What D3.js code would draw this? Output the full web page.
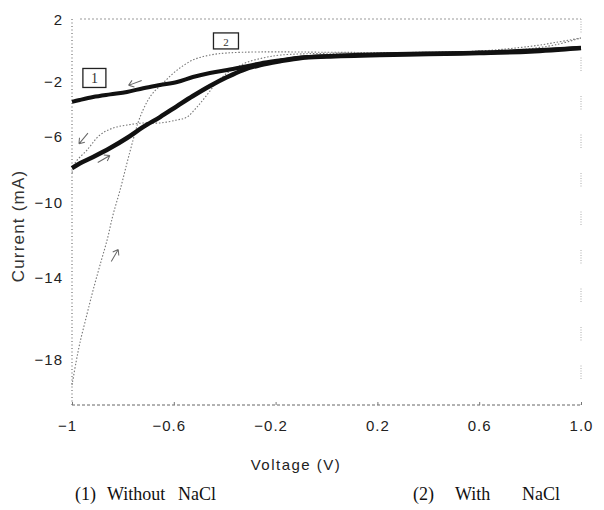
<!DOCTYPE html>
<html>
<head>
<meta charset="utf-8">
<script src="https://cdn.jsdelivr.net/npm/d3@7"></script>
<style>
  html, body { margin: 0; padding: 0; background: #fff; }
  svg { display: block; }
</style>
</head>
<body>
<svg id="chart" width="604" height="510"></svg>
<script>
// ---------------- data ----------------
// Curve 1 (without NaCl), forward scan (lower branch)
const c1ForwardV = [-1, -0.97, -0.917, -0.85, -0.784, -0.72, -0.654, -0.587, -0.525, -0.458, -0.39, -0.328, -0.26, -0.18, -0.1, 0.0, 0.21, 0.4, 0.6, 0.8, 1.0];
const c1ForwardI = [-7.88, -7.6, -7.21, -6.67, -6.06, -5.27, -4.55, -3.75, -3.02, -2.29, -1.68, -1.23, -0.9, -0.65, -0.45, -0.36, -0.26, -0.2, -0.13, -0.03, 0.19];
// Curve 1, reverse scan (upper branch)
const c1ReverseV = [1.0, 0.6, 0.2, -0.1, -0.18, -0.26, -0.328, -0.39, -0.458, -0.525, -0.587, -0.654, -0.72, -0.784, -0.85, -0.917, -0.97, -1];
const c1ReverseI = [0.19, -0.1, -0.22, -0.42, -0.6, -0.8, -1.03, -1.23, -1.42, -1.68, -2.0, -2.22, -2.45, -2.73, -2.9, -3.09, -3.31, -3.45];
// Curve 2 (with NaCl), forward scan (steep branch)
const c2ForwardV = [-1, -0.984, -0.969, -0.941, -0.917, -0.89, -0.862, -0.839, -0.811, -0.784, -0.76, -0.741, -0.721, -0.701, -0.682, -0.642, -0.587, -0.525, -0.458, -0.391, -0.261, 0.0, 0.2, 0.4, 0.6, 0.7, 0.8, 0.9, 1.0];
const c2ForwardI = [-19.22, -18.1, -17.17, -15.76, -14.59, -13.31, -11.97, -10.64, -9.21, -7.58, -6.18, -4.98, -4.04, -3.31, -2.8, -2.07, -1.23, -0.58, -0.26, -0.13, -0.06, -0.08, -0.1, -0.1, -0.08, 0.0, 0.15, 0.4, 0.84];
// Curve 2, reverse scan (wavy branch)
const c2ReverseV = [1.0, 0.9, 0.8, 0.6, 0.3, 0.0, -0.18, -0.25, -0.31, -0.35, -0.39, -0.43, -0.47, -0.509, -0.548, -0.587, -0.654, -0.72, -0.784, -0.839, -0.89, -0.941, -0.988, -1];
const c2ReverseI = [0.84, 0.55, 0.3, 0.0, -0.1, -0.15, -0.26, -0.45, -0.71, -1.03, -1.42, -2.0, -2.95, -3.82, -4.55, -4.76, -4.98, -4.98, -5.13, -5.35, -5.85, -6.79, -7.58, -8.2];

// ticks
const xTickValues = [-1, -0.6, -0.2, 0.2, 0.6, 1.0];
const xTickLabels = ["\u22121", "\u22120.6", "\u22120.2", "0.2", "0.6", "1.0"];
const yTickValues = [2, -2, -6, -10, -14, -18];
const yTickLabels = ["2", "\u22122", "\u22126", "\u221210", "\u221214", "\u221218"];

// annotations: scan-direction arrows (voltage, current, screen angle in degrees)
const arrowV = [-0.752, -0.875, -0.955, -0.832];
const arrowI = [-2.07, -7.33, -6.09, -12.8];
const arrowAngle = [160, -30, 130, -60];
// curve number boxes
const boxLabels = ["1", "2"];
const boxV = [-0.912, -0.395];
const boxI = [-1.74, 0.65];

const xLabel = "Voltage (V)";
const yLabel = "Current (mA)";
const captions = [["(1)", "Without", "NaCl"], ["(2)", "With", "NaCl"]];

// ---------------- drawing ----------------
const svg = d3.select("#chart");
const pLeft = 72, pRight = 581, pTop = 19, pBottom = 405;

const x = d3.scaleLinear().domain([-1, 1]).range([pLeft, pRight]);
// scanned figure: y tick spacing is uneven, follow it piecewise
const y = d3.scaleLinear()
  .domain([2, -2, -6, -10, -14, -18, -22])
  .range([20, 82, 137, 203, 278, 360, 442]);

// frame (dotted, like the scan)
const frame = svg.append("g");
frame.append("line").attr("x1", pLeft).attr("x2", pLeft).attr("y1", pTop).attr("y2", pBottom)
  .attr("stroke", "#555").attr("stroke-width", 1).attr("stroke-dasharray", "1,2.5");
frame.append("line").attr("x1", pLeft).attr("x2", pRight).attr("y1", pBottom).attr("y2", pBottom)
  .attr("stroke", "#666").attr("stroke-width", 1).attr("stroke-dasharray", "3,2");
frame.append("line").attr("x1", pLeft + 8).attr("x2", pRight).attr("y1", pTop).attr("y2", pTop)
  .attr("stroke", "#999").attr("stroke-width", 1).attr("stroke-dasharray", "2,2");
frame.append("line").attr("x1", pRight).attr("x2", pRight).attr("y1", pTop).attr("y2", pBottom)
  .attr("stroke", "#aaa").attr("stroke-width", 1).attr("stroke-dasharray", "1,1.5,1,1.5,1,1.5,1,1.5,1,1.5,1,25");

// axes
const fontSans = "'Liberation Sans', Arial, sans-serif";
const xAxis = d3.axisBottom(x).tickValues(xTickValues)
  .tickFormat((d, i) => xTickLabels[i]).tickSize(3).tickPadding(12);
const gx = svg.append("g").attr("transform", `translate(0,${pBottom})`).call(xAxis);
gx.select(".domain").remove();
gx.selectAll(".tick line").attr("stroke", "#777").attr("y1", -3).attr("y2", 0);
gx.selectAll(".tick text")
  .attr("font-family", fontSans).attr("font-size", 15).attr("fill", "#222")
  .attr("letter-spacing", "1px")
  .attr("dx", (d) => d < 0 ? -5 : 0);

const yAxis = d3.axisLeft(y).tickValues(yTickValues)
  .tickFormat((d, i) => yTickLabels[i]).tickSize(0).tickPadding(9);
const gy = svg.append("g").attr("transform", `translate(${pLeft},0)`).call(yAxis);
gy.select(".domain").remove();
gy.selectAll(".tick text")
  .attr("font-family", fontSans).attr("font-size", 15).attr("fill", "#222")
  .attr("letter-spacing", "1px");

// axis titles
svg.append("text").attr("x", 296).attr("y", 470).attr("text-anchor", "middle")
  .attr("font-family", fontSans).attr("font-size", 15).attr("letter-spacing", "1.5px")
  .attr("fill", "#222").text(xLabel);
svg.append("text").attr("transform", "translate(24,226) rotate(-90)").attr("text-anchor", "middle")
  .attr("font-family", fontSans).attr("font-size", 17).attr("letter-spacing", "1.2px")
  .attr("fill", "#333").text(yLabel);

// curves
const line = d3.line().x(d => x(d[0])).y(d => y(d[1])).curve(d3.curveCatmullRom.alpha(0.5));
const zip = (a, b) => a.map((v, i) => [v, b[i]]);

const curves = svg.append("g");
curves.append("path").datum(zip(c2ForwardV, c2ForwardI)).attr("d", line)
  .attr("fill", "none").attr("stroke", "#777").attr("stroke-width", 1.1).attr("stroke-dasharray", "1.5,1.8");
curves.append("path").datum(zip(c2ReverseV, c2ReverseI)).attr("d", line)
  .attr("fill", "none").attr("stroke", "#777").attr("stroke-width", 1.1).attr("stroke-dasharray", "1.5,1.8");
curves.append("path").datum(zip(c1ForwardV, c1ForwardI)).attr("d", line)
  .attr("fill", "none").attr("stroke", "#111").attr("stroke-width", 4.5).attr("stroke-linejoin", "round");
curves.append("path").datum(zip(c1ReverseV, c1ReverseI)).attr("d", line)
  .attr("fill", "none").attr("stroke", "#111").attr("stroke-width", 4).attr("stroke-linejoin", "round");

// arrows
const arrows = svg.append("g");
arrowV.forEach((v, i) => {
  const g = arrows.append("g")
    .attr("transform", `translate(${x(v)},${y(arrowI[i])}) rotate(${arrowAngle[i]})`);
  g.append("path").attr("d", "M-7,0 L7,0 M7,0 L2,-3.5 M7,0 L2,3.5")
    .attr("fill", "none").attr("stroke", "#666").attr("stroke-width", 1);
});

// numbered boxes
const fontSerif = "'Liberation Serif', 'Times New Roman', serif";
boxLabels.forEach((lab, i) => {
  const cx = x(boxV[i]), cy = y(boxI[i]);
  const w = i === 0 ? 23 : 25, h = i === 0 ? 19 : 16;
  svg.append("rect").attr("x", cx - w / 2).attr("y", cy - h / 2).attr("width", w).attr("height", h)
    .attr("fill", "#fff").attr("stroke", "#222").attr("stroke-width", 1.3);
  svg.append("text").attr("x", cx).attr("y", cy + 5).attr("text-anchor", "middle")
    .attr("font-family", fontSerif).attr("font-size", i === 0 ? 14 : 11).attr("fill", "#333").text(lab);
});

// captions
const capX = [[75, 107, 178], [413, 455, 522]];
captions.forEach((words, i) => {
  const t = svg.append("text").attr("y", 500)
    .attr("font-family", fontSerif).attr("font-size", 18).attr("fill", "#111");
  words.forEach((w, j) => t.append("tspan").attr("x", capX[i][j]).text(w));
});
</script>
</body>
</html>
